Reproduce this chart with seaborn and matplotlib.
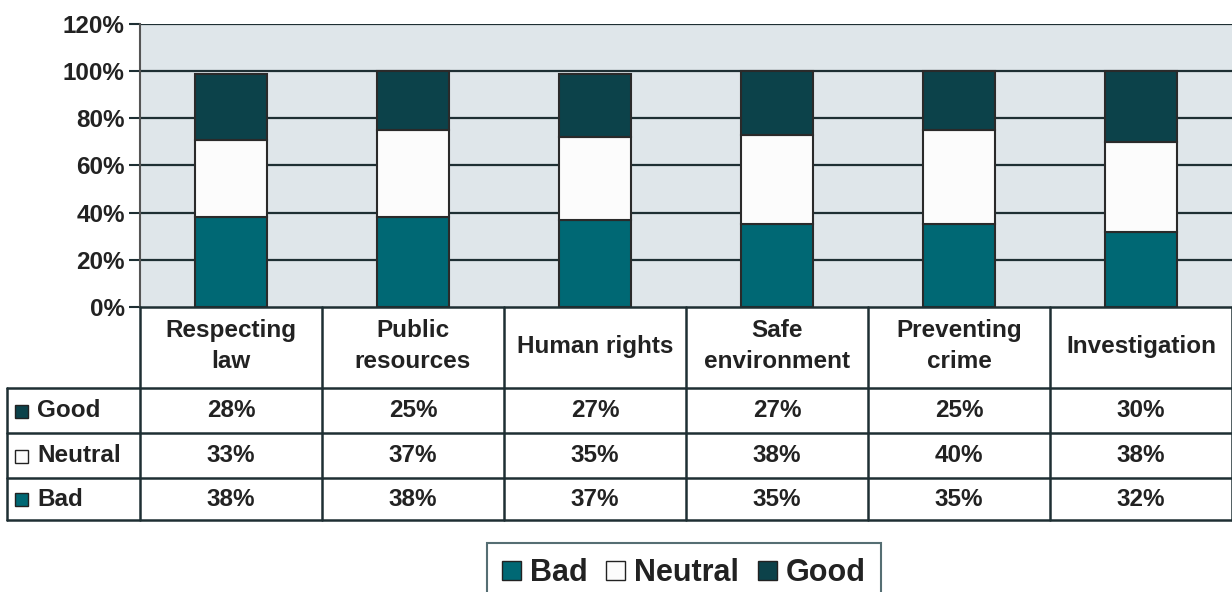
import numpy as np
import pandas as pd
import matplotlib
matplotlib.use("Agg")
import matplotlib.pyplot as plt
import matplotlib.transforms as mtransforms
from matplotlib.lines import Line2D
from matplotlib.patches import Rectangle, Patch
import seaborn as sns

# datos
categorias = ["Respecting\nlaw", "Public\nresources", "Human rights",
              "Safe\nenvironment", "Preventing\ncrime", "Investigation"]
good = [28, 25, 27, 27, 25, 30]
neutral = [33, 37, 35, 38, 40, 38]
bad = [38, 38, 37, 35, 35, 32]
yticks = [0, 20, 40, 60, 80, 100, 120]

c_bad = "#006874"
c_neutral = "#fcfcfc"
c_good = "#0c424a"
c_bg = "#dfe6ea"
c_line = "#1e2f33"
c_text = "#222222"

sns.set_style("white")
plt.rcParams["font.family"] = ["Liberation Sans", "DejaVu Sans"]
plt.rcParams["font.weight"] = "bold"

W, H = 1232, 592
fs = 17.5
fig = plt.figure(figsize=(W / 100, H / 100), dpi=100)
ax = fig.add_axes([140 / W, 1 - 307 / H, 1 - 140 / W, (307 - 24) / H])
ax.set_facecolor(c_bg)

df = pd.DataFrame({"cat": categorias, "bad": bad, "neutral": neutral, "good": good})
bottom_n = df["bad"].values
bottom_g = df["bad"].values + df["neutral"].values

sns.barplot(data=df, x="cat", y="bad", color=c_bad, width=0.4, edgecolor="#2a2a2a",
            linewidth=1.5, saturation=1, ax=ax, zorder=3)
sns.barplot(data=df, x="cat", y="neutral", bottom=bottom_n, color=c_neutral, width=0.4,
            edgecolor="#2a2a2a", linewidth=1.5, saturation=1, ax=ax, zorder=3)
sns.barplot(data=df, x="cat", y="good", bottom=bottom_g, color=c_good, width=0.4,
            edgecolor="#2a2a2a", linewidth=1.5, saturation=1, ax=ax, zorder=3)

ax.set_xlim(-0.5, len(categorias) - 0.5)
ax.set_ylim(0, 120)
ax.set_yticks(yticks)
ax.set_yticklabels([f"{t}%" for t in yticks], fontsize=fs, fontweight="bold", color=c_text)
ax.set_xticks([])
ax.set_xlabel("")
ax.set_ylabel("")
ax.tick_params(axis="y", length=8, width=1.5, color=c_line, pad=3, left=True)
for t in yticks[1:]:
    ax.axhline(t, color=c_line, lw=1.6, zorder=1)
ax.spines["top"].set_visible(False)
ax.spines["right"].set_visible(False)
ax.spines["bottom"].set_visible(False)
ax.spines["left"].set_color("#555555")
ax.spines["left"].set_linewidth(1.5)

# tabla de datos debajo del gráfico
tr = mtransforms.blended_transform_factory(ax.transData, fig.transFigure)
def fy(y):
    return 1 - y / H

row_y = [307, 388, 433, 478, 520]
n = len(categorias)
lw_t = 1.8
for i in range(n + 1):
    x = i - 0.5
    fig.add_artist(Line2D([x, x], [fy(307), fy(520)], transform=tr, color=c_line, lw=lw_t))
fig.add_artist(Line2D([7 / W, 7 / W], [fy(388), fy(520)], color=c_line, lw=lw_t))
fig.add_artist(Line2D([140 / W, 1], [fy(307), fy(307)], color=c_line, lw=lw_t))
for y in row_y[1:]:
    fig.add_artist(Line2D([7 / W, 1], [fy(y), fy(y)], color=c_line, lw=lw_t))

# encabezados
for i, c in enumerate(categorias):
    fig.text(i, fy(346), c, transform=tr, ha="center", va="center", fontsize=fs,
             fontweight="bold", color=c_text, linespacing=1.4)

filas = [("Good", good, c_good), ("Neutral", neutral, c_neutral), ("Bad", bad, c_bad)]
for r, (nombre, vals, col) in enumerate(filas):
    yc = (row_y[r + 1] + row_y[r + 2]) / 2
    fig.add_artist(Rectangle((15 / W, fy(yc + 7)), 13 / W, 13 / H, facecolor=col,
                             edgecolor="#222222", lw=1.0))
    fig.text(37 / W, fy(yc), nombre, ha="left", va="center", fontsize=fs,
             fontweight="bold", color=c_text)
    for i, v in enumerate(vals):
        fig.text(i, fy(yc), f"{v}%", transform=tr, ha="center", va="center",
                 fontsize=fs, fontweight="bold", color=c_text)

# leyenda
handles = [Patch(facecolor=c_bad, edgecolor="#222222", label="Bad"),
           Patch(facecolor=c_neutral, edgecolor="#222222", label="Neutral"),
           Patch(facecolor=c_good, edgecolor="#222222", label="Good")]
leg = fig.legend(handles=handles, loc="upper center", bbox_to_anchor=(684 / W, fy(543)),
                 ncol=3, frameon=True, fancybox=False, handlelength=0.62,
                 handleheight=0.62, handletextpad=0.3, columnspacing=0.6,
                 borderpad=0.5, borderaxespad=0, prop={"weight": "bold", "size": 22})
leg.get_frame().set_edgecolor("#2a4a50")
leg.get_frame().set_linewidth(1.5)
for t in leg.get_texts():
    t.set_color(c_text)

fig.savefig("out.png", dpi=100)
